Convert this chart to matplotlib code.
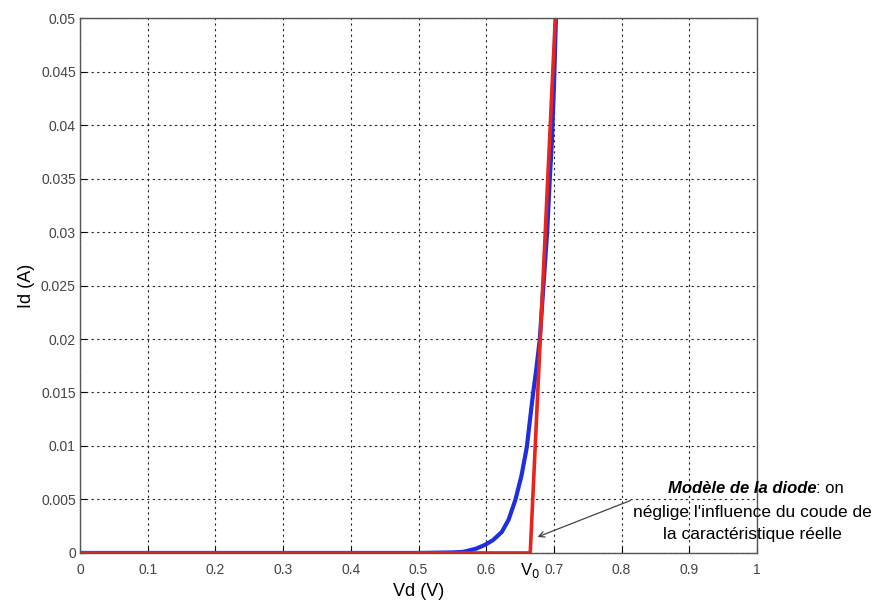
import matplotlib
matplotlib.use("Agg")
import matplotlib.pyplot as plt

plt.rcParams['font.family'] = ['Liberation Sans', 'DejaVu Sans']

vd_real = [0.0, 0.1, 0.2, 0.3, 0.4, 0.5, 0.55, 0.566, 0.585, 0.598, 0.61,
           0.623, 0.633, 0.643, 0.652, 0.660, 0.664, 0.669, 0.674, 0.679,
           0.684, 0.690, 0.694, 0.697, 0.700, 0.703]
id_real = [0.0, 0.0, 0.0, 0.0, 0.0, 0.0, 0.00005, 0.0001, 0.0004, 0.00075,
           0.0012, 0.00196, 0.0031, 0.00495, 0.0072, 0.0099, 0.0121,
           0.0148, 0.0172, 0.0199, 0.0245, 0.030, 0.0351, 0.0385, 0.0435,
           0.050]

# red: diode model (threshold V0)
v0 = 0.665
vd_model = [0.0, v0, 0.702]
id_model = [0.0, 0.0, 0.050]

xticks = [0, 0.1, 0.2, 0.3, 0.4, 0.5, 0.6, 0.7, 0.8, 0.9, 1]
xlabels = ['0', '0.1', '0.2', '0.3', '0.4', '0.5', '0.6', '0.7', '0.8', '0.9', '1']
yticks = [0, 0.005, 0.01, 0.015, 0.02, 0.025, 0.03, 0.035, 0.04, 0.045, 0.05]
ylabels = ['0', '0.005', '0.01', '0.015', '0.02', '0.025', '0.03', '0.035',
           '0.04', '0.045', '0.05']

fig = plt.figure(figsize=(8.85, 6.03), dpi=100)
ax = fig.add_axes([0.0904, 0.083, 0.765, 0.887])

ax.plot(vd_real, id_real, color='#1f2fe0', lw=3, solid_capstyle='butt')
ax.plot(vd_model, id_model, color='#e8241c', lw=2.6, solid_joinstyle='miter')

ax.set_xlim(0, 1)
ax.set_ylim(0, 0.05)
ax.set_xticks(xticks, labels=xlabels)
ax.set_yticks(yticks, labels=ylabels)
ax.set_xticks([v0], labels=['V$_0$'], minor=True)
ax.tick_params(axis='both', which='major', direction='in', labelsize=10,
               labelcolor='#444444', length=4)
ax.tick_params(axis='x', which='major', pad=7)
ax.tick_params(axis='y', which='major', pad=3)
ax.tick_params(axis='x', which='minor', direction='in', length=0,
               labelsize=12, pad=6)
ax.grid(True, which='major', ls=(0, (2, 3)), color='#222222', lw=0.8)
for s in ax.spines.values():
    s.set_color('#555555')
    s.set_linewidth(1.0)

ax.set_xlabel('Vd (V)', fontsize=13, labelpad=2)
ax.set_ylabel('Id (A)', fontsize=13, labelpad=4)

ax.annotate('', xy=(0.672, 0.0014), xytext=(0.817, 0.005),
            arrowprops=dict(arrowstyle='->', color='#444444', lw=0.9))
t1 = ax.text(0.978, 0.00607, 'Modèle de la diode', ha='center', va='center',
             fontsize=12, fontweight='bold', style='italic')
ax.annotate(': on', xy=(1, 0.5), xycoords=t1, ha='left', va='center',
            fontsize=12)
ax.text(0.993, 0.00374, "néglige l'influence du coude de", ha='center',
        va='center', fontsize=12.5)
ax.text(0.993, 0.00168, "la caractéristique réelle", ha='center',
        va='center', fontsize=12.5)

fig.savefig('out.png', dpi=100)
